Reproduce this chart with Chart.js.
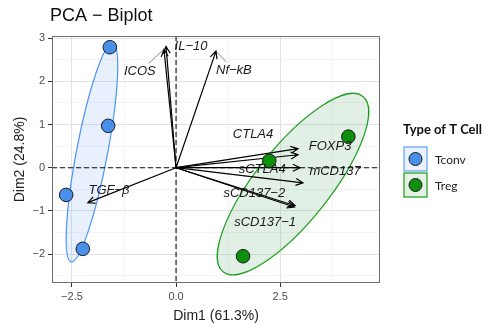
<!DOCTYPE html>
<html>
<head>
<meta charset="utf-8">
<script src="https://cdn.jsdelivr.net/npm/chart.js@4"></script>
<style>
  html, body { margin: 0; padding: 0; background: #fff; }
  #wrap { width: 491px; height: 329px; }
</style>
</head>
<body>
<div id="wrap"><canvas id="biplot"></canvas></div>
<script>
/******************* individuals (PC scores) ***********************/
const tconvX = [-1.59, -1.63, -2.64, -2.24];
const tconvY = [2.79, 0.97, -0.63, -1.88];
const tregX = [2.24, 4.14, 1.61];
const tregY = [0.16, 0.72, -2.05];

/******************* variables (loadings) ***********************/
const varNames = ['ICOS', 'IL\u221210', 'Nf\u2212kB', 'TGF\u2212\u03b2', 'CTLA4', 'FOXP3', 'sCTLA4', 'mCD137', 'sCD137\u22122', 'sCD137\u22121'];
const varX = [-0.29, -0.24, 0.96, -2.12, 2.93, 2.93, 2.98, 3.05, 2.84, 2.86];
const varY = [2.74, 2.81, 2.70, -0.81, 0.44, 0.30, 0.00, -0.35, -0.91, -0.88];
// where the repelled labels ended up (data units)
const labelX = [-0.87, 0.36, 1.39, -1.61, 1.85, 3.70, 2.07, 3.82, 1.88, 2.14];
const labelY = [2.23, 2.81, 2.26, -0.53, 0.77, 0.49, -0.05, -0.09, -0.60, -1.26];
const hasSegment = [1, 0, 1, 0, 0, 0, 0, 0, 0, 0];

/******************* concentration ellipses ***********************/
// centre + two semi-axis vectors, data units
const ellipseCx = [-2.02, 2.81];
const ellipseCy = [0.35, -0.38];
const ellipseAx = [0.50, 1.68];
const ellipseAy = [2.53, 2.03];
const ellipseBx = [0.366, 0.695];
const ellipseBy = [-0.068, -0.537];

/******************* axes ***********************/
const xTicks = [-2.5, -1.25, 0, 1.25, 2.5, 3.75];
const yTicks = [-2.5, -2, -1.5, -1, -0.5, 0, 0.5, 1, 1.5, 2, 2.5, 3];
const xTitle = 'Dim1 (61.3%)';
const yTitle = 'Dim2 (24.8%)';
const chartTitle = 'PCA \u2212 Biplot';
const legendTitle = 'Type of T Cell';
const groups = ['Tconv', 'Treg'];

const BLUE = '#4a8fe9';
const GREEN = '#0c900c';
const ELL_STROKE = ['#4b95f5', '#1fa01f'];
const ELL_FILL = ['rgba(80,140,240,0.13)', 'rgba(40,140,70,0.14)'];
const FONT = '"Liberation Sans", Arial, sans-serif';

const isMajorX = v => Math.abs(v / 2.5 - Math.round(v / 2.5)) < 1e-6;
const isMajorY = v => Math.abs(v - Math.round(v)) < 1e-6;
const fmt = s => s.replace('-', '\u2212');

const toPoints = (xs, ys) => xs.map((x, i) => ({x: x, y: ys[i]}));

const biplotPlugin = {
    id: 'biplot',
    beforeDatasetsDraw(chart) {
        const ctx = chart.ctx;
        const xs = chart.scales.x, ys = chart.scales.y;
        const area = chart.chartArea;
        ctx.save();
        ctx.beginPath();
        ctx.rect(area.left, area.top, area.width, area.height);
        ctx.clip();

        // ellipses
        for (let i = 0; i < ellipseCx.length; i++) {
            const cx = xs.getPixelForValue(ellipseCx[i]);
            const cy = ys.getPixelForValue(ellipseCy[i]);
            const ax = xs.getPixelForValue(ellipseCx[i] + ellipseAx[i]) - cx;
            const ay = ys.getPixelForValue(ellipseCy[i] + ellipseAy[i]) - cy;
            const bx = xs.getPixelForValue(ellipseCx[i] + ellipseBx[i]) - cx;
            const by = ys.getPixelForValue(ellipseCy[i] + ellipseBy[i]) - cy;
            ctx.save();
            ctx.beginPath();
            ctx.transform(ax, ay, bx, by, cx, cy);
            ctx.arc(0, 0, 1, 0, Math.PI * 2);
            ctx.restore();
            ctx.fillStyle = ELL_FILL[i];
            ctx.fill();
            ctx.strokeStyle = ELL_STROKE[i];
            ctx.lineWidth = 1.2;
            ctx.stroke();
        }

        // dashed zero lines
        const x0 = xs.getPixelForValue(0), y0 = ys.getPixelForValue(0);
        ctx.setLineDash([5, 3]);
        ctx.strokeStyle = '#111';
        ctx.lineWidth = 1.1;
        ctx.beginPath();
        ctx.moveTo(x0, area.top); ctx.lineTo(x0, area.bottom);
        ctx.moveTo(area.left, y0); ctx.lineTo(area.right, y0);
        ctx.stroke();
        ctx.setLineDash([]);

        // arrows
        ctx.strokeStyle = '#000';
        ctx.lineWidth = 1.2;
        for (let i = 0; i < varX.length; i++) {
            const tx = xs.getPixelForValue(varX[i]);
            const ty = ys.getPixelForValue(varY[i]);
            const ang = Math.atan2(ty - y0, tx - x0);
            const h = 8, spread = 0.45;
            ctx.beginPath();
            ctx.moveTo(x0, y0);
            ctx.lineTo(tx, ty);
            ctx.moveTo(tx - h * Math.cos(ang - spread), ty - h * Math.sin(ang - spread));
            ctx.lineTo(tx, ty);
            ctx.lineTo(tx - h * Math.cos(ang + spread), ty - h * Math.sin(ang + spread));
            ctx.stroke();
        }
        ctx.restore();
    },
    afterDatasetsDraw(chart) {
        const ctx = chart.ctx;
        const xs = chart.scales.x, ys = chart.scales.y;
        ctx.save();
        ctx.font = 'italic 13px ' + FONT;
        ctx.textAlign = 'center';
        ctx.textBaseline = 'middle';
        for (let i = 0; i < varNames.length; i++) {
            const lx = xs.getPixelForValue(labelX[i]);
            const ly = ys.getPixelForValue(labelY[i]);
            if (hasSegment[i]) {
                const tx = xs.getPixelForValue(varX[i]);
                const ty = ys.getPixelForValue(varY[i]);
                const hw = ctx.measureText(varNames[i]).width / 2 + 2, hh = 8;
                const dx = tx - lx, dy = ty - ly;
                const t = Math.min(hw / Math.abs(dx || 1e-9), hh / Math.abs(dy || 1e-9));
                ctx.strokeStyle = '#555';
                ctx.lineWidth = 0.7;
                ctx.beginPath();
                ctx.moveTo(lx + dx * t, ly + dy * t);
                ctx.lineTo(tx, ty);
                ctx.stroke();
            }
            ctx.fillStyle = '#1a1a1a';
            ctx.fillText(varNames[i], lx, ly);
        }
        ctx.restore();
    },
    afterDraw(chart) {
        const ctx = chart.ctx;
        const area = chart.chartArea;
        ctx.save();
        // panel border
        ctx.strokeStyle = '#6e6e6e';
        ctx.lineWidth = 1;
        ctx.strokeRect(area.left + 0.5, area.top + 0.5, area.width - 1, area.height - 1);

        // title + axis titles
        ctx.fillStyle = '#111';
        ctx.textBaseline = 'middle';
        ctx.font = '18px ' + FONT;
        ctx.textAlign = 'left';
        ctx.fillText(chartTitle, 50, 16);
        ctx.font = '14px ' + FONT;
        ctx.fillStyle = '#222';
        ctx.textAlign = 'center';
        ctx.fillText(xTitle, (area.left + area.right) / 2, 316);
        ctx.save();
        ctx.translate(20, (area.top + area.bottom) / 2);
        ctx.rotate(-Math.PI / 2);
        ctx.fillText(yTitle, 0, 0);
        ctx.restore();

        // legend
        ctx.textAlign = 'left';
        ctx.fillStyle = '#111';
        ctx.font = 'bold 13px Lato, ' + FONT;
        ctx.fillText(legendTitle, 403, 130);
        const keyFill = ['#eaf2fd', '#e4f1e4'];
        const keyLine = ['#6ea6f5', '#2ca02c'];
        const ptFill = [BLUE, GREEN];
        for (let i = 0; i < groups.length; i++) {
            const top = 147 + i * 26;
            ctx.fillStyle = keyFill[i];
            ctx.fillRect(404, top, 23, 24);
            ctx.strokeStyle = keyLine[i];
            ctx.lineWidth = 1.3;
            ctx.strokeRect(404, top, 23, 24);
            ctx.beginPath();
            ctx.arc(415.5, top + 12, 6.5, 0, Math.PI * 2);
            ctx.fillStyle = ptFill[i];
            ctx.fill();
            ctx.strokeStyle = '#1b1b1b';
            ctx.lineWidth = 1;
            ctx.stroke();
            ctx.fillStyle = '#222';
            ctx.font = '12px Lato, ' + FONT;
            ctx.fillText(groups[i], 435, top + 13);
        }
        ctx.restore();
    }
};

const gridColor = (major) => ctx => (major(ctx.tick.value) ? '#e2e2e2' : '#efefef');
const gridWidth = (major) => ctx => (major(ctx.tick.value) ? 1 : 0.7);
const tickColor = (major) => ctx => (major(ctx.tick.value) ? '#333' : 'rgba(0,0,0,0)');

const config = {
    type: 'scatter',
    data: {
        datasets: [
            {
                label: groups[0],
                data: toPoints(tconvX, tconvY),
                backgroundColor: BLUE,
                borderColor: '#1b1b1b',
                borderWidth: 1,
                pointRadius: 6.8
            },
            {
                label: groups[1],
                data: toPoints(tregX, tregY),
                backgroundColor: GREEN,
                borderColor: '#1b1b1b',
                borderWidth: 1,
                pointRadius: 6.8
            }
        ]
    },
    options: {
        responsive: true,
        maintainAspectRatio: false,
        animation: false,
        devicePixelRatio: 1,
        layout: {
            padding: {top: 36, right: 111, left: 0, bottom: 0}
        },
        plugins: {
            legend: {display: false},
            title: {display: false},
            tooltip: {enabled: false}
        },
        scales: {
            x: {
                type: 'linear',
                min: -2.98,
                max: 4.9,
                afterBuildTicks: s => { s.ticks = xTicks.map(v => ({value: v})); },
                afterFit: s => { s.height = 46; },
                border: {display: false},
                grid: {
                    color: gridColor(isMajorX),
                    lineWidth: gridWidth(isMajorX),
                    tickColor: tickColor(isMajorX),
                    tickLength: 4
                },
                ticks: {
                    autoSkip: false,
                    maxRotation: 0,
                    padding: 3,
                    color: '#4d4d4d',
                    font: {size: 11, family: FONT},
                    callback: v => (isMajorX(v) ? fmt(v.toFixed(1)) : '')
                }
            },
            y: {
                type: 'linear',
                min: -2.67,
                max: 3.05,
                afterBuildTicks: s => { s.ticks = yTicks.map(v => ({value: v})); },
                afterFit: s => { s.width = 52; },
                border: {display: false},
                grid: {
                    color: gridColor(isMajorY),
                    lineWidth: gridWidth(isMajorY),
                    tickColor: tickColor(isMajorY),
                    tickLength: 4
                },
                ticks: {
                    autoSkip: false,
                    padding: 3,
                    color: '#4d4d4d',
                    font: {size: 11, family: FONT},
                    callback: v => (isMajorY(v) ? fmt(String(v)) : '')
                }
            }
        }
    },
    plugins: [biplotPlugin]
};

const myBiplot = new Chart(document.getElementById('biplot'), config);
</script>
</body>
</html>
